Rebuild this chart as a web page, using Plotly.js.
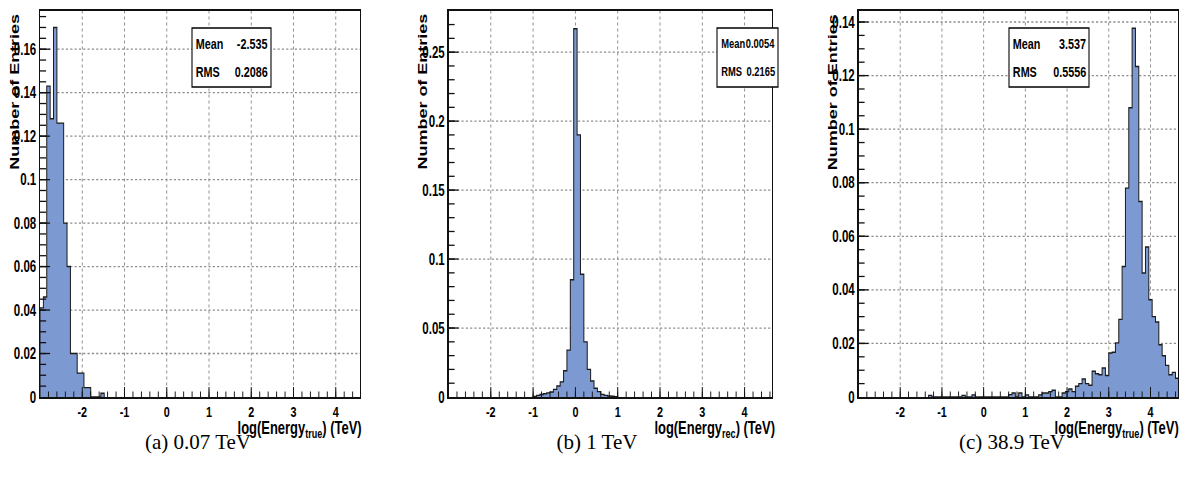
<!DOCTYPE html>
<html>
<head>
<meta charset="utf-8">
<script src="https://cdn.plot.ly/plotly-3.0.1.min.js"></script>
<style>
  html, body { margin: 0; padding: 0; background: #ffffff; overflow: hidden; }
  #wrap { position: relative; width: 1182px; height: 484px; overflow: hidden; background: #ffffff; }
  /* the original figure is horizontally compressed; draw it wide and squeeze it */
  #chart { position: absolute; left: 0; top: 0; width: 1642px; height: 484px;
           transform: scaleX(0.719854); transform-origin: 0 0; }
  .cap { position: absolute; top: 430px; width: 300px; margin-left: -150px; text-align: center;
         font-family: 'Liberation Serif', 'DejaVu Serif', serif; font-size: 21px; color: #000;
         line-height: 24px; white-space: nowrap; }
</style>
</head>
<body>
<div id="wrap">
  <div id="chart"></div>
</div>
<script>
// ---------------- data ----------------
const binStart = -3.0;      // lower edge of bin 0
const binWidth = 0.08;      // width of each histogram bin

// (a) 0.07 TeV : normalised entries, starting at bin index firstBinA
const firstBinA = 0;
const countsA = [0.041, 0.046, 0.143, 0.128, 0.170, 0.126, 0.126, 0.080, 0.060, 0.020,
                 0.020, 0.011, 0.011, 0.0043, 0.0043, 0, 0, 0, 0.0017];

// (b) 1 TeV
const firstBinB = 25;
const countsB = [0.0004, 0.0012, 0.0018, 0.0024, 0.003, 0.0036, 0.0055, 0.008, 0.011, 0.019,
                 0.034, 0.085, 0.267, 0.190, 0.089, 0.040, 0.020, 0.0116, 0.0063, 0.0039,
                 0.0019, 0.0012, 0.0007, 0.0005, 0.0003];

// (c) 38.9 TeV
const firstBinC = 21;
const countsC = [0.0006, 0, 0, 0, 0, 0, 0, 0, 0, 0,
                 0.0006, 0, 0, 0.0008, 0, 0, 0, 0, 0, 0,
                 0, 0, 0, 0, 0.0009, 0.0015, 0, 0.0015, 0, 0.0008,
                 0, 0, 0, 0.0008, 0.0015, 0.0015, 0.002, 0.0025, 0, 0,
                 0.0015, 0.002, 0.003, 0.002, 0.004, 0.005, 0.0067, 0.005, 0.0044, 0.0096,
                 0.0087, 0.0083, 0.0108, 0.008, 0.0164, 0.0167, 0.0202, 0.029, 0.0487, 0.078,
                 0.108, 0.1377, 0.1234, 0.073, 0.0463, 0.056, 0.0363, 0.030, 0.028, 0.0195,
                 0.0154, 0.0118, 0.0083, 0.0092, 0.007];

// statistics boxes
const statLabels = ["Mean", "RMS"];
const statsA = ["-2.535", "0.2086"];
const statsB = ["0.0054", "0.2165"];
const statsC = ["3.537", "0.5556"];

// titles / captions
const yTitle = "Number of Entries";
const xTitleA = "log(Energy<sub>true</sub>) (TeV)";
const xTitleB = "log(Energy<sub>rec</sub>) (TeV)";
const xTitleC = "log(Energy<sub>true</sub>) (TeV)";
const captions = ["(a) 0.07 TeV", "(b) 1 TeV", "(c) 38.9 TeV"];

// tick labels
const xTickVals = [-2, -1, 0, 1, 2, 3, 4];
const xTickText = ["-2", "-1", "0", "1", "2", "3", "4"];
const yTickValsA = [0, 0.02, 0.04, 0.06, 0.08, 0.1, 0.12, 0.14, 0.16];
const yTickTextA = ["0", "0.02", "0.04", "0.06", "0.08", "0.1", "0.12", "0.14", "0.16"];
const yTickValsB = [0, 0.05, 0.1, 0.15, 0.2, 0.25];
const yTickTextB = ["0", "0.05", "0.1", "0.15", "0.2", "0.25"];
const yTickValsC = [0, 0.02, 0.04, 0.06, 0.08, 0.1, 0.12, 0.14];
const yTickTextC = ["0", "0.02", "0.04", "0.06", "0.08", "0.1", "0.12", "0.14"];

// ---------------- drawing ----------------
const W = 1182, H = 484;          // final picture size
const WIDE = 1642;                // drawing width before the horizontal squeeze
const px = v => v / W;            // paper fraction from final pixel x
const py = v => 1 - v / H;        // paper fraction from final pixel y

const SANS = "'Liberation Sans', Arial, Helvetica, sans-serif";
const FILL = "#7d99d1";
const EDGE = "#1c1c1c";

function stepTrace(firstBin, counts, xa, ya) {
  const xs = [], ys = [];
  const e0 = binStart + firstBin * binWidth;
  xs.push(e0); ys.push(0);
  for (let i = 0; i < counts.length; i++) {
    xs.push(binStart + (firstBin + i) * binWidth);
    ys.push(counts[i]);
  }
  const eEnd = binStart + (firstBin + counts.length) * binWidth;
  xs.push(eEnd); ys.push(counts[counts.length - 1]);
  xs.push(eEnd); ys.push(0);
  return {
    type: "scatter", mode: "lines", x: xs, y: ys, xaxis: xa, yaxis: ya,
    line: { shape: "hv", color: EDGE, width: 1.4 },
    fill: "tozeroy", fillcolor: FILL, hoverinfo: "skip"
  };
}

const data = [
  stepTrace(firstBinA, countsA, "x", "y"),
  stepTrace(firstBinB, countsB, "x2", "y2"),
  stepTrace(firstBinC, countsC, "x3", "y3")
];

const yDom = [py(397), py(10.5)];
const xTickFont = { family: SANS, size: 15, color: "#000", weight: "bold" };
const yTickFont = { family: SANS, size: 16, color: "#000", weight: "bold" };

function xAxis(domain, range, anchor) {
  return {
    domain: domain, range: range, anchor: anchor, showline: true, mirror: true,
    linecolor: "#111", linewidth: 2,
    ticks: "inside", ticklen: 10, tickwidth: 1.3, tickcolor: "#111",
    tickmode: "array", tickvals: xTickVals, ticktext: xTickText,
    tickfont: xTickFont,
    showgrid: true, gridcolor: "#8c8c8c", griddash: "dot", gridwidth: 1.3,
    zeroline: false, fixedrange: true,
    minor: { dtick: 0.2, tick0: 0, ticks: "inside", ticklen: 5.5, tickwidth: 1.3, tickcolor: "#111", showgrid: false }
  };
}
function yAxis(anchor, range, vals, text, minorStep) {
  return {
    domain: yDom, range: range, anchor: anchor, showline: true, mirror: true,
    linecolor: "#111", linewidth: 2,
    ticks: "inside", ticklen: 14, tickwidth: 1.3, tickcolor: "#111",
    tickmode: "array", tickvals: vals, ticktext: text,
    tickfont: yTickFont,
    showgrid: true, gridcolor: "#8c8c8c", griddash: "dot", gridwidth: 1.3,
    zeroline: false, fixedrange: true,
    minor: { dtick: minorStep, tick0: 0, ticks: "inside", ticklen: 8.5, tickwidth: 1.3, tickcolor: "#111", showgrid: false }
  };
}

const annotations = [];
const shapes = [];

function yTitleAnn(xc) {
  annotations.push({
    xref: "paper", yref: "paper", x: px(xc), y: py(12), xanchor: "center", yanchor: "top",
    text: yTitle, textangle: -90, showarrow: false,
    font: { family: SANS, size: 18, color: "#000", weight: "bold" }
  });
}
function xTitleAnn(xr, text) {
  annotations.push({
    xref: "paper", yref: "paper", x: px(xr), y: py(416), xanchor: "right", yanchor: "top",
    text: text, showarrow: false,
    font: { family: SANS, size: 18, color: "#000", weight: "bold" }
  });
}
function statBox(x0, x1, vals, fs) {
  shapes.push({
    type: "rect", xref: "paper", yref: "paper", x0: px(x0), x1: px(x1), y0: py(87), y1: py(28),
    line: { color: "#000", width: 1.5 }, fillcolor: "#ffffff", layer: "above"
  });
  const rows = [43.5, 71.5];
  for (let i = 0; i < 2; i++) {
    annotations.push({
      xref: "paper", yref: "paper", x: px(x0 + 2.5), y: py(rows[i]), xanchor: "left", yanchor: "middle",
      text: statLabels[i], showarrow: false,
      font: { family: SANS, size: fs, color: "#000", weight: "bold" }
    });
    annotations.push({
      xref: "paper", yref: "paper", x: px(x1 - 1.5), y: py(rows[i]), xanchor: "right", yanchor: "middle",
      text: vals[i], showarrow: false,
      font: { family: SANS, size: fs, color: "#000", weight: "bold" }
    });
  }
}

yTitleAnn(15); yTitleAnn(423); yTitleAnn(833);
xTitleAnn(363, xTitleA); xTitleAnn(777, xTitleB); xTitleAnn(1180, xTitleC);
statBox(192, 271, statsA, 15);
statBox(717, 778, statsB, 13);
statBox(1009, 1089, statsC, 15);

const layout = {
  width: WIDE, height: H,
  margin: { l: 0, r: 0, t: 0, b: 0, pad: 0 },
  paper_bgcolor: "rgba(0,0,0,0)", plot_bgcolor: "#ffffff",
  showlegend: false,
  xaxis: xAxis([px(40), px(360)], [-3, 4.574], "y"),
  yaxis: yAxis("x", [0, 0.1778], yTickValsA, yTickTextA, 0.005),
  xaxis2: xAxis([px(448.5), px(772)], [-3, 4.648], "y2"),
  yaxis2: yAxis("x2", [0, 0.2802], yTickValsB, yTickTextB, 0.01),
  xaxis3: xAxis([px(858.5), px(1178)], [-3, 4.66], "y3"),
  yaxis3: yAxis("x3", [0, 0.1443], yTickValsC, yTickTextC, 0.005),
  annotations: annotations,
  shapes: shapes
};

Plotly.newPlot("chart", data, layout, { displayModeBar: false, staticPlot: true });

// sub-figure captions (not part of the squeezed figure)
const capX = [198, 597, 1012];
const wrap = document.getElementById("wrap");
captions.forEach((c, i) => {
  const d = document.createElement("div");
  d.className = "cap";
  d.style.left = capX[i] + "px";
  d.textContent = c;
  wrap.appendChild(d);
});
</script>
</body>
</html>
